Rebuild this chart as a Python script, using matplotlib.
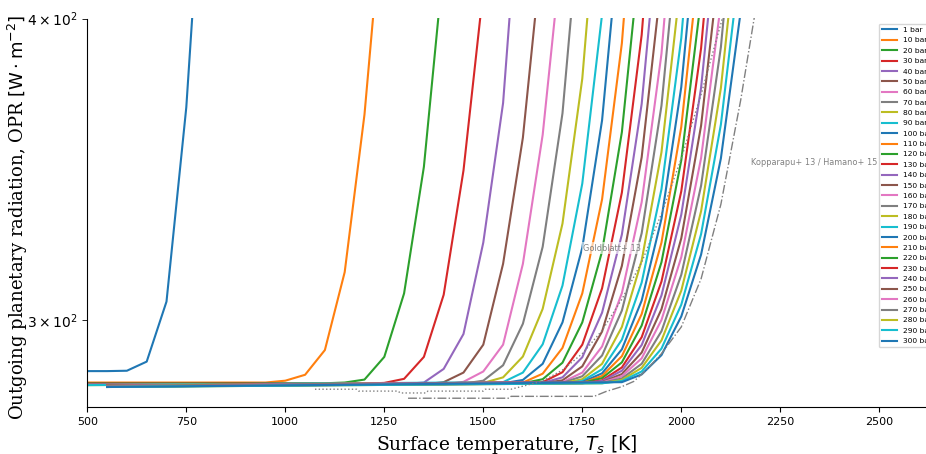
import matplotlib
matplotlib.use("Agg")
import matplotlib.pyplot as plt

# ---------------- data (surface temperature [K], OPR [W m^-2]) ----------------
pressures_bar = [1, 10, 20, 30, 40, 50, 60, 70, 80, 90, 100, 110, 120, 130, 140,
                 150, 160, 170, 180, 190, 200, 210, 220, 230, 240, 250, 260, 270,
                 280, 290, 300]

t_001 = [500, 550, 600, 650, 700, 750, 800]
o_001 = [285.7, 285.7, 285.8, 288.3, 305.3, 367.5, 490.0]
t_010 = [500, 950, 1000, 1050, 1100, 1150, 1200, 1250]
o_010 = [282.6, 282.6, 283.1, 284.7, 291.5, 314.0, 365.0, 452.0]
t_020 = [500, 1100, 1150, 1200, 1250, 1300, 1350, 1400]
o_020 = [282.4, 282.4, 282.6, 283.4, 289.6, 307.7, 347.2, 422.0]
t_030 = [500, 1200, 1250, 1300, 1350, 1400, 1450, 1500]
o_030 = [282.3, 282.3, 282.5, 283.6, 289.6, 307.3, 346.0, 411.0]
t_040 = [500, 1300, 1350, 1400, 1450, 1500, 1550, 1600]
o_040 = [282.2, 282.2, 282.6, 286.3, 296.0, 323.0, 369.0, 474.0]
t_050 = [500, 1350, 1400, 1450, 1500, 1550, 1600, 1650]
o_050 = [282.1, 282.1, 282.7, 285.3, 293.0, 316.5, 357.0, 430.0]
t_060 = [500, 1400, 1450, 1500, 1550, 1600, 1650, 1700]
o_060 = [282.0, 282.0, 282.8, 285.6, 293.0, 316.5, 358.0, 430.0]
t_070 = [500, 1450, 1500, 1550, 1600, 1650, 1700, 1750]
o_070 = [282.0, 282.3, 283.1, 287.3, 298.9, 321.7, 365.4, 453.0]
t_080 = [500, 1500, 1550, 1600, 1650, 1700, 1750, 1800]
o_080 = [281.9, 282.5, 284.0, 289.7, 303.2, 328.9, 377.7, 474.0]
t_090 = [500, 1550, 1600, 1650, 1700, 1750, 1800, 1850]
o_090 = [281.9, 282.7, 285.3, 293.1, 310.0, 341.7, 401.6, 519.0]
t_100 = [550, 1550, 1600, 1650, 1700, 1750, 1800, 1850]
o_100 = [281.8, 282.4, 283.3, 287.7, 299.3, 321.4, 363.0, 444.0]
t_110 = [550, 1600, 1650, 1700, 1750, 1800, 1850, 1900]
o_110 = [281.8, 282.6, 285.0, 292.1, 307.7, 336.6, 390.7, 496.0]
t_120 = [550, 1600, 1650, 1700, 1750, 1800, 1850, 1900]
o_120 = [281.8, 282.4, 283.5, 288.0, 299.3, 320.3, 358.9, 432.0]
t_130 = [550, 1650, 1700, 1750, 1800, 1850, 1900, 1950]
o_130 = [281.7, 282.7, 285.4, 293.0, 309.2, 338.8, 393.8, 500.0]
t_140 = [550, 1650, 1700, 1750, 1800, 1850, 1900, 1950]
o_140 = [281.7, 282.5, 284.0, 289.5, 302.1, 325.5, 368.7, 451.0]
t_150 = [550, 1650, 1700, 1750, 1800, 1850, 1900, 1950]
o_150 = [281.7, 282.4, 283.2, 287.0, 296.7, 315.9, 350.4, 414.8]
t_160 = [550, 1700, 1750, 1800, 1850, 1900, 1950, 2000]
o_160 = [281.7, 282.7, 285.3, 292.5, 307.8, 335.7, 386.8, 484.6]
t_170 = [550, 1700, 1750, 1800, 1850, 1900, 1950, 2000]
o_170 = [281.6, 282.5, 284.3, 290.0, 302.7, 325.9, 368.1, 447.7]
t_180 = [550, 1700, 1750, 1800, 1850, 1900, 1950, 2000]
o_180 = [281.6, 282.4, 283.5, 287.7, 298.0, 317.5, 352.1, 416.3]
t_190 = [550, 1700, 1750, 1800, 1850, 1900, 1950, 2000, 2050]
o_190 = [281.6, 282.4, 283.0, 286.2, 294.4, 310.9, 339.9, 392.6, 491.6]
t_200 = [550, 1750, 1800, 1850, 1900, 1950, 2000, 2050]
o_200 = [281.6, 282.7, 285.1, 291.7, 305.6, 330.4, 374.7, 456.7]
t_210 = [550, 1750, 1800, 1850, 1900, 1950, 2000, 2050]
o_210 = [281.6, 282.5, 284.4, 289.8, 301.7, 323.0, 360.7, 430.0]
t_220 = [550, 1750, 1800, 1850, 1900, 1950, 2000, 2050]
o_220 = [281.5, 282.5, 283.8, 288.1, 298.4, 317.0, 349.4, 407.6]
t_230 = [550, 1750, 1800, 1850, 1900, 1950, 2000, 2050, 2100]
o_230 = [281.5, 282.4, 283.2, 286.7, 295.1, 311.2, 339.2, 388.8, 480.0]
t_240 = [550, 1750, 1800, 1850, 1900, 1950, 2000, 2050, 2100]
o_240 = [281.5, 282.4, 283.0, 285.8, 292.9, 307.1, 331.7, 374.4, 452.0]
t_250 = [550, 1800, 1850, 1900, 1950, 2000, 2050, 2100]
o_250 = [281.5, 282.7, 284.9, 290.8, 303.1, 324.3, 361.1, 426.8]
t_260 = [550, 1800, 1850, 1900, 1950, 2000, 2050, 2100]
o_260 = [281.5, 282.6, 284.3, 289.2, 300.0, 318.5, 350.1, 405.7]
t_270 = [550, 1800, 1850, 1900, 1950, 2000, 2050, 2100, 2150]
o_270 = [281.5, 282.5, 283.7, 287.7, 296.8, 313.2, 341.0, 389.2, 476.0]
t_280 = [550, 1800, 1850, 1900, 1950, 2000, 2050, 2100, 2150]
o_280 = [281.4, 282.4, 283.3, 286.6, 294.2, 308.5, 332.8, 374.3, 447.5]
t_290 = [550, 1800, 1850, 1900, 1950, 2000, 2050, 2100, 2150]
o_290 = [281.4, 282.4, 283.0, 285.6, 291.9, 304.4, 325.6, 361.5, 424.0]
t_300 = [550, 1850, 1900, 1950, 2000, 2050, 2100, 2150, 2200]
o_300 = [281.4, 282.7, 284.8, 290.1, 301.0, 319.3, 350.0, 402.6, 492.0]

# literature curves
t_goldblatt = [1075, 1180, 1185, 1285, 1290, 1355, 1360, 1500, 1505, 1570,
               1650, 1700, 1750, 1800, 1850, 1900, 1950, 2000, 2050, 2100, 2150]
o_goldblatt = [280.8, 280.8, 280.3, 280.3, 279.8, 279.8, 280.3, 280.3, 280.8, 280.8,
               283.0, 286.0, 290.5, 297.0, 306.0, 317.0, 332.0, 350.0, 372.0, 398.0, 428.0]
t_kopparapu = [1310, 1565, 1570, 1780, 1810, 1850, 1880, 1910, 1950, 2000,
               2050, 2100, 2150, 2200]
o_kopparapu = [278.4, 278.4, 278.9, 278.9, 280.2, 281.5, 282.9, 285.8, 290.5, 298.0,
               312.0, 335.0, 370.0, 415.0]

series_t = [t_001, t_010, t_020, t_030, t_040, t_050, t_060, t_070, t_080, t_090,
            t_100, t_110, t_120, t_130, t_140, t_150, t_160, t_170, t_180, t_190,
            t_200, t_210, t_220, t_230, t_240, t_250, t_260, t_270, t_280, t_290, t_300]
series_o = [o_001, o_010, o_020, o_030, o_040, o_050, o_060, o_070, o_080, o_090,
            o_100, o_110, o_120, o_130, o_140, o_150, o_160, o_170, o_180, o_190,
            o_200, o_210, o_220, o_230, o_240, o_250, o_260, o_270, o_280, o_290, o_300]

x_ticks = [500, 750, 1000, 1250, 1500, 1750, 2000, 2250, 2500]

# ---------------- figure ----------------
W, H = 926, 454
fig = plt.figure(figsize=(W / 100, H / 100), dpi=100)
left, right, top, bottom = 87.3, 926, 18.5, 407.3
ax = fig.add_axes([left / W, 1 - bottom / H, (right - left) / W, (bottom - top) / H])

for p, t, o in zip(pressures_bar, series_t, series_o):
    ax.plot(t, o, lw=1.5, label=f"{p} bar")

ax.plot(t_goldblatt, o_goldblatt, color="gray", ls=":", lw=1.0)
ax.plot(t_kopparapu, o_kopparapu, color="gray", ls="-.", lw=1.0)

ax.text(1752, 321.3, "Goldblatt+ 13", fontsize=5.9, color="gray", va="center",
        ha="left", bbox=dict(facecolor="white", alpha=0.6, edgecolor="none", pad=1))
ax.text(2176, 348.7, "Kopparapu+ 13 / Hamano+ 15", fontsize=5.9, color="gray",
        va="center", ha="left")

ax.set_yscale("log")
ax.set_xlim(500, 2618)
ax.set_ylim(276, 400)
ax.set_xticks(x_ticks)
ax.spines["top"].set_visible(False)
ax.spines["right"].set_visible(False)
ax.tick_params(labelsize=8)
ax.tick_params(which="minor", length=3.5)

ax.set_xlabel(r"Surface temperature, $T_s$ $[\mathrm{K}]$", family="DejaVu Serif",
              fontsize=13.4)
ax.set_ylabel(r"Outgoing planetary radiation, OPR $[\mathrm{W} \cdot \mathrm{m}^{-2}]$",
              family="DejaVu Serif", fontsize=13.0)
ax.yaxis.set_label_coords(-0.0685, 0.49)

ax.legend(loc="upper left", bbox_to_anchor=(875 / W, 1 - 20 / H),
          bbox_transform=fig.transFigure, fontsize=5.4, labelspacing=0.55,
          framealpha=0.8)

fig.savefig("out.png", dpi=100)
